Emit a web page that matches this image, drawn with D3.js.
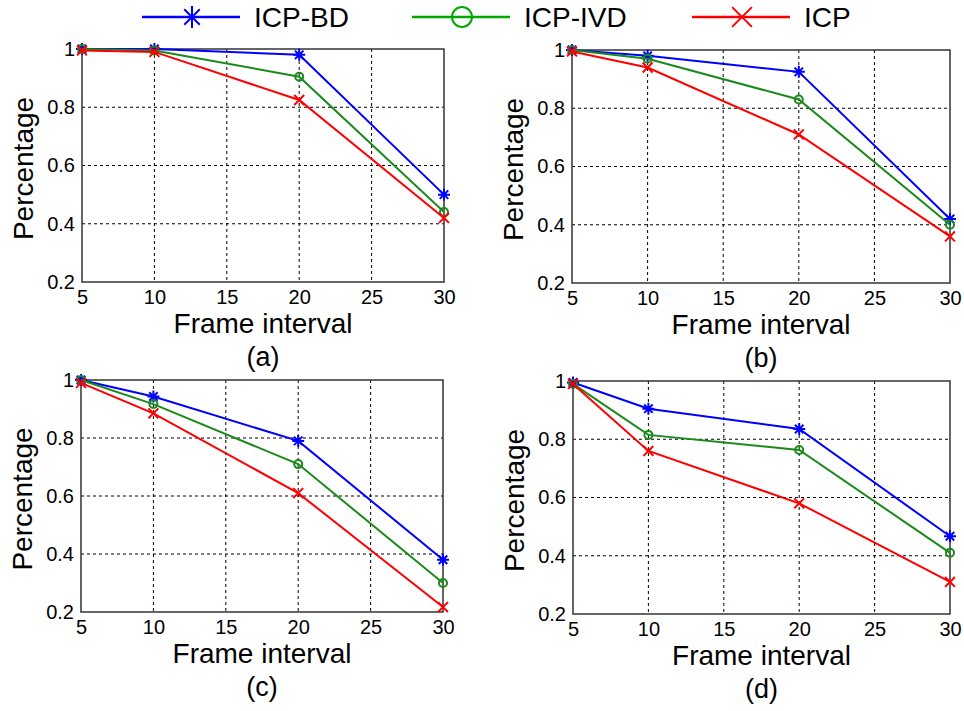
<!DOCTYPE html>
<html>
<head>
<meta charset="utf-8">
<script src="https://cdn.jsdelivr.net/npm/d3@7"></script>
<style>
  body { margin: 0; background: #fff; }
  svg { display: block; font-family: Arial, "Liberation Sans", sans-serif; }
</style>
</head>
<body>
<svg id="chart" width="964" height="711"></svg>
<script>
// data
const frameIntervals = [5, 10, 20, 30]
const xTicks = [5, 10, 15, 20, 25, 30]
const yTicks = [0.2, 0.4, 0.6, 0.8, 1]
const seriesNames = ["ICP-BD", "ICP-IVD", "ICP"]
const panelLabels = ["(a)", "(b)", "(c)", "(d)"]
const bdValues  = [[1, 1, 0.98, 0.50], [1, 0.98, 0.925, 0.42], [1, 0.943, 0.79, 0.38], [0.995, 0.905, 0.835, 0.467]]
const ivdValues = [[1, 0.995, 0.905, 0.44], [1, 0.97, 0.83, 0.40], [1, 0.917, 0.71, 0.30], [0.99, 0.815, 0.763, 0.41]]
const icpValues = [[0.995, 0.99, 0.825, 0.42], [0.995, 0.94, 0.71, 0.36], [0.99, 0.885, 0.61, 0.217], [0.99, 0.76, 0.58, 0.31]]

const colors = ["#0000ff", "#1a8a1a", "#ff0000"]
const legendColors = ["#0000ff", "#00a800", "#ff0000"]
const markers = ["star", "circle", "cross"]

// plot frames (left, top, right, bottom)
const boxes = [[82, 49, 444, 282], [572, 50, 950, 283], [81, 380, 443, 612], [573, 381, 950, 614]]

let svg = d3.select("#chart")

function drawMarker(g, type, x, y, s, color) {
    if (type == "star") {
        let d = ""
        for (let i = 0; i < 4; i++) {
            let a = i * Math.PI / 4
            let dx = Math.sin(a) * s, dy = Math.cos(a) * s
            d += "M" + (x - dx) + "," + (y - dy) + "L" + (x + dx) + "," + (y + dy)
        }
        g.append("path").attr("d", d).attr("stroke", color).attr("stroke-width", 2).attr("fill", "none")
    } else if (type == "circle") {
        g.append("circle").attr("cx", x).attr("cy", y).attr("r", s)
            .attr("stroke", color).attr("stroke-width", 2).attr("fill", "none")
    } else {
        let k = s * 0.9
        g.append("path")
            .attr("d", "M" + (x - k) + "," + (y - k) + "L" + (x + k) + "," + (y + k) + "M" + (x - k) + "," + (y + k) + "L" + (x + k) + "," + (y - k))
            .attr("stroke", color).attr("stroke-width", 2).attr("fill", "none")
    }
}

boxes.forEach(function(b, p) {
    let x = d3.scaleLinear().domain([5, 30]).range([b[0], b[2]])
    let y = d3.scaleLinear().domain([0.2, 1]).range([b[3], b[1]])
    let g = svg.append("g")

    // dotted grid
    g.selectAll(".gx").data(xTicks.slice(1, -1)).enter().append("line")
        .attr("x1", d => x(d)).attr("x2", d => x(d))
        .attr("y1", b[1]).attr("y2", b[3])
        .attr("stroke", "#000").attr("stroke-width", 1).attr("stroke-dasharray", "3,3")
    g.selectAll(".gy").data(yTicks.slice(1, -1)).enter().append("line")
        .attr("x1", b[0]).attr("x2", b[2])
        .attr("y1", d => y(d)).attr("y2", d => y(d))
        .attr("stroke", "#000").attr("stroke-width", 1).attr("stroke-dasharray", "3,3")

    // axes with tick labels
    let xa = g.append("g").attr("transform", "translate(0," + b[3] + ")")
        .call(d3.axisBottom(x).tickValues(xTicks).tickSize(0).tickPadding(8).tickFormat(d => d))
    let ya = g.append("g").attr("transform", "translate(" + b[0] + ",0)")
        .call(d3.axisLeft(y).tickValues(yTicks).tickSize(0).tickPadding(7).tickFormat(d => String(d)))
    ;[xa, ya].forEach(a => {
        a.select(".domain").remove()
        a.selectAll("text").attr("font-size", 20).attr("fill", "#000")
            .attr("font-family", "Arial, 'Liberation Sans', sans-serif")
    })

    // frame
    g.append("rect").attr("x", b[0]).attr("y", b[1])
        .attr("width", b[2] - b[0]).attr("height", b[3] - b[1])
        .attr("fill", "none").attr("stroke", "#333").attr("stroke-width", 1.5)

    // series
    let all = [bdValues[p], ivdValues[p], icpValues[p]]
    let line = d3.line().x((d, i) => x(frameIntervals[i])).y(d => y(d))
    all.forEach(function(vals, s) {
        g.append("path").datum(vals).attr("d", line)
            .attr("fill", "none").attr("stroke", colors[s]).attr("stroke-width", 2)
        let sz = [6, 4, 5.5][s]
        vals.forEach((v, i) => drawMarker(g, markers[s], x(frameIntervals[i]), y(v), sz, colors[s]))
    })

    // labels
    let cx = (b[0] + b[2]) / 2
    g.append("text").attr("x", cx).attr("y", b[3] + 51).attr("text-anchor", "middle")
        .attr("font-size", 28).text("Frame interval")
    g.append("text").attr("transform", "translate(" + (b[0] - 49) + "," + ((b[1] + b[3]) / 2 + 3) + ") rotate(-90)")
        .attr("text-anchor", "middle").attr("font-size", 28).text("Percentage")
    g.append("text").attr("x", cx).attr("y", b[3] + 84).attr("text-anchor", "middle")
        .attr("font-size", 27).text(panelLabels[p])
})

// legend across the top
const legendX = [142, 412, 692]
let lg = svg.append("g")
seriesNames.forEach(function(name, s) {
    let lx = legendX[s], ly = 17
    lg.append("line").attr("x1", lx).attr("x2", lx + 98).attr("y1", ly).attr("y2", ly)
        .attr("stroke", legendColors[s]).attr("stroke-width", 2.5)
    drawMarker(lg, markers[s], lx + 50, ly, [11, 10, 11][s], legendColors[s])
    lg.append("text").attr("x", lx + 112).attr("y", ly + 10).attr("font-size", 28).text(name)
})
</script>
</body>
</html>
